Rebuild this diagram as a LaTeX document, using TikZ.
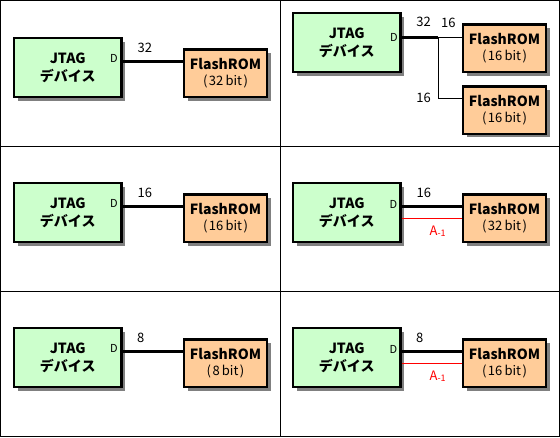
\documentclass[tikz,border=0pt]{standalone}
\usepackage{fontspec}
\setmainfont{Noto Sans CJK JP}
\usetikzlibrary{shadows}
\definecolor{jtaggreen}{HTML}{CCFFCC}
\definecolor{romorange}{HTML}{FFCC99}
\definecolor{shadowgray}{HTML}{808080}
\newcommand{\romtext}[1]{FlashROM\\{\mdseries\fontsize{13}{16}\selectfont (\kern1.5pt#1\,bit\kern1.5pt)}}
\newcommand{\addrlabel}{A\raisebox{-0.7pt}{\fontsize{9}{9}\selectfont -1}}
\begin{document}
\begin{tikzpicture}[x=1pt, y=-1pt,
  jtag/.style={draw, line width=2.5pt, fill=jtaggreen, align=center, font=\fontsize{14}{18}\selectfont\bfseries, minimum width=107.5pt, minimum height=59pt, inner sep=0pt, drop shadow={shadow xshift=4pt, shadow yshift=-3.5pt, fill=shadowgray, opacity=1}},
  rom/.style={draw, line width=2.5pt, fill=romorange, align=center, font=\fontsize{14}{16}\selectfont\bfseries, minimum width=83pt, minimum height=47.5pt, inner sep=0pt, drop shadow={shadow xshift=4pt, shadow yshift=-3.5pt, fill=shadowgray, opacity=1}},
  port/.style={font=\fontsize{11}{11}\selectfont, inner sep=0pt},
  lbl/.style={font=\fontsize{13}{13}\selectfont, inner sep=1pt},
  bus/.style={line width=3pt},
  wire/.style={line width=1pt},
  addr/.style={line width=1pt, red},
  grid/.style={line width=1pt}
]
\useasboundingbox (0,0) rectangle (560,437);
% frame
\draw[grid] (0.5,0.5) rectangle (559.5,436.5);
\draw[grid] (280,0) -- (280,437);
\draw[grid] (0,146) -- (560,146);
\draw[grid] (0,291) -- (560,291);

% 32 bit device, 32 bit rom
\node[jtag] (jtag1) at (67.7,67.5) {JTAG\\デバイス};
\node[rom] (rom1) at (225.5,73.3) {\romtext{32}};
\node[port] (d1) at (114,58.3) {D};
\draw[bus] ([yshift=12pt]rom1.west -| jtag1.east) -- node[lbl, pos=0.37, above=6pt]{32} ([yshift=12pt]rom1.west);

% 32 bit device, two 16 bit roms
\node[jtag] (jtag2) at (346.7,42.7) {JTAG\\デバイス};
\node[rom] (rom2a) at (504.5,48.3) {\romtext{16}};
\node[rom] (rom2b) at (504.5,110) {\romtext{16}};
\node[port] (d2) at (394,37) {D};
\coordinate (split) at (438.3,37.3);
\draw[bus] (split -| jtag2.east) -- node[lbl, pos=0.6, above=8pt]{32} (split);
\draw[wire] (split) -- node[lbl, pos=0.43, above=8pt]{16} (split -| rom2a.west);
\draw[wire] (split) |- node[lbl, pos=0.5, left=6pt]{16} ([yshift=11.7pt]rom2b.west);

% 16 bit device, 16 bit rom
\node[jtag] (jtag3) at (67.7,212.5) {JTAG\\デバイス};
\node[rom] (rom3) at (225.5,218.3) {\romtext{16}};
\node[port] (d3) at (114,203.3) {D};
\draw[bus] ([yshift=12pt]rom3.west -| jtag3.east) -- node[lbl, pos=0.37, above=6pt]{16} ([yshift=12pt]rom3.west);

% 16 bit device, 32 bit rom with A-1
\node[jtag] (jtag4) at (346.7,212.5) {JTAG\\デバイス};
\node[rom] (rom4) at (504.5,218.3) {\romtext{32}};
\node[port] (d4) at (393.4,204.2) {D};
\draw[bus] ([yshift=12pt]rom4.west -| jtag4.east) -- node[lbl, pos=0.37, above=6pt]{16} ([yshift=12pt]rom4.west);
\draw[addr] (rom4.west -| jtag4.east) -- node[lbl, red, pos=0.6, below=6pt]{\addrlabel} (rom4.west);

% 8 bit device, 8 bit rom
\node[jtag] (jtag5) at (67.7,357.5) {JTAG\\デバイス};
\node[rom] (rom5) at (225.5,363.3) {\romtext{8}};
\node[port] (d5) at (114,348.3) {D};
\draw[bus] ([yshift=12pt]rom5.west -| jtag5.east) -- node[lbl, pos=0.3, above=6pt]{8} ([yshift=12pt]rom5.west);

% 8 bit device, 16 bit rom with A-1
\node[jtag] (jtag6) at (346.7,357.5) {JTAG\\デバイス};
\node[rom] (rom6) at (504.5,363.3) {\romtext{16}};
\node[port] (d6) at (393.4,349.2) {D};
\draw[bus] ([yshift=12pt]rom6.west -| jtag6.east) -- node[lbl, pos=0.3, above=6pt]{8} ([yshift=12pt]rom6.west);
\draw[addr] (rom6.west -| jtag6.east) -- node[lbl, red, pos=0.6, below=6pt]{\addrlabel} (rom6.west);
\end{tikzpicture}
\end{document}
